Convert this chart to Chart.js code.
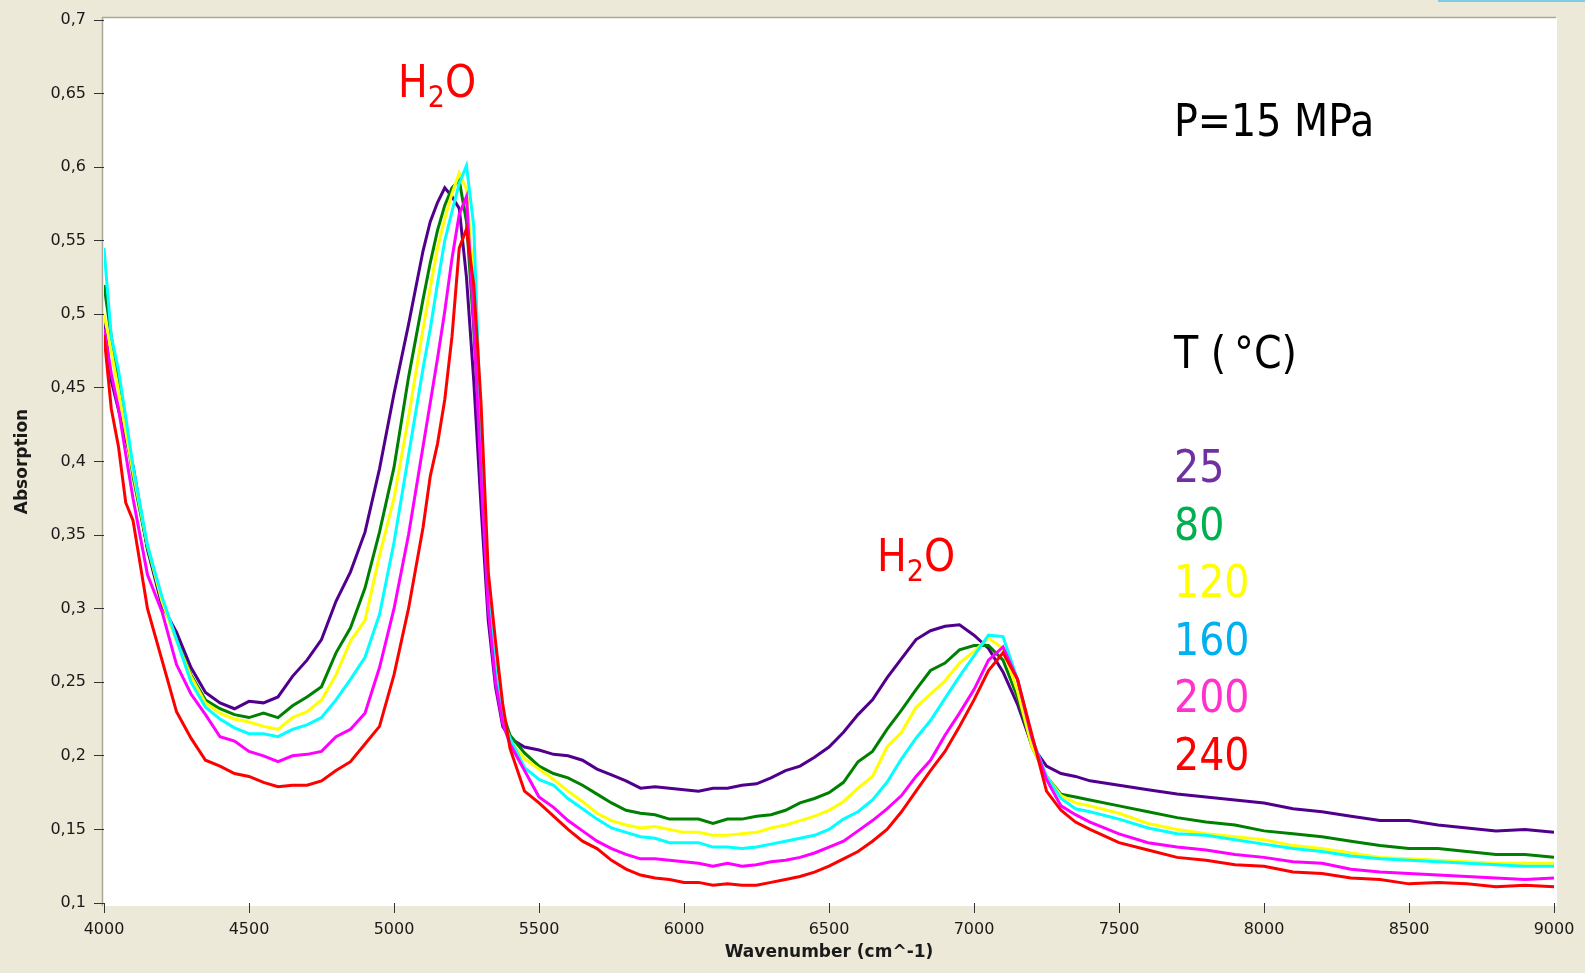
<!DOCTYPE html>
<html>
<head>
<meta charset="utf-8">
<title>Absorption spectra, P=15 MPa</title>
<script src="https://cdn.jsdelivr.net/npm/chart.js@4.4.1/dist/chart.umd.min.js"></script>
<style>
  html, body { margin: 0; padding: 0; background: #ECE9D8; }
  #wrap { width: 1585px; height: 973px; position: relative; }
</style>
</head>
<body>
<div id="wrap"><canvas id="spectra" width="1585" height="973"></canvas></div>
<script>
// wavenumber grid (cm^-1) shared by all series
const wavenumbers = [
  4000, 4025, 4050, 4075,
  4100, 4150, 4200, 4250, 4300, 4350, 4400, 4450, 4500, 4550, 4600, 4650, 4700, 4750, 4800, 4850, 4900, 4950, 5000, 5050, 5100,
  5125, 5150, 5175, 5200, 5225, 5250, 5275, 5300, 5325, 5350, 5375, 5400,
  5450, 5500, 5550, 5600, 5650, 5700, 5750, 5800, 5850, 5900, 5950, 6000, 6050, 6100, 6150, 6200, 6250, 6300, 6350, 6400,
  6450, 6500, 6550, 6600, 6650, 6700, 6750, 6800, 6850, 6900, 6950, 7000, 7050, 7100, 7150, 7200, 7250, 7300, 7350, 7400,
  7500, 7600, 7700, 7800, 7900, 8000, 8100, 8200, 8300, 8400, 8500, 8600, 8700, 8800, 8900, 9000
];

const abs25 = [
  0.495, 0.455, 0.435, 0.415,
  0.397, 0.340, 0.302, 0.284, 0.260, 0.243, 0.236, 0.232, 0.237, 0.236, 0.240, 0.254, 0.265, 0.279, 0.305, 0.325, 0.352, 0.395, 0.446, 0.493, 0.543,
  0.563, 0.576, 0.586, 0.580, 0.572, 0.525, 0.455, 0.370, 0.292, 0.247, 0.220, 0.212,
  0.206, 0.204, 0.201, 0.200, 0.197, 0.191, 0.187, 0.183, 0.178, 0.179, 0.178, 0.177, 0.176, 0.178, 0.178, 0.180, 0.181, 0.185, 0.190, 0.193,
  0.199, 0.206, 0.216, 0.228, 0.238, 0.253, 0.266, 0.279, 0.285, 0.288, 0.289, 0.282, 0.273, 0.257, 0.235, 0.207, 0.193, 0.188, 0.186, 0.183,
  0.180, 0.177, 0.174, 0.172, 0.170, 0.168, 0.164, 0.162, 0.159, 0.156, 0.156, 0.153, 0.151, 0.149, 0.150, 0.148
];

const abs80 = [
  0.520, 0.485, 0.452, 0.421,
  0.390, 0.341, 0.306, 0.279, 0.255, 0.238, 0.232, 0.228, 0.226, 0.229, 0.226, 0.234, 0.240, 0.247, 0.270, 0.287, 0.314, 0.352, 0.396, 0.457, 0.510,
  0.535, 0.557, 0.574, 0.586, 0.591, 0.563, 0.490, 0.403, 0.321, 0.262, 0.229, 0.214,
  0.202, 0.193, 0.188, 0.185, 0.180, 0.174, 0.168, 0.163, 0.161, 0.160, 0.157, 0.157, 0.157, 0.154, 0.157, 0.157, 0.159, 0.160, 0.163, 0.168,
  0.171, 0.175, 0.182, 0.196, 0.203, 0.218, 0.231, 0.245, 0.258, 0.263, 0.272, 0.275, 0.275, 0.265, 0.240, 0.206, 0.186, 0.174, 0.172, 0.170,
  0.166, 0.162, 0.158, 0.155, 0.153, 0.149, 0.147, 0.145, 0.142, 0.139, 0.137, 0.137, 0.135, 0.133, 0.133, 0.131
];

const abs120 = [
  0.500, 0.475, 0.448, 0.420,
  0.393, 0.343, 0.305, 0.278, 0.254, 0.236, 0.229, 0.225, 0.223, 0.220, 0.218, 0.226, 0.230, 0.238, 0.255, 0.278, 0.292, 0.336, 0.375, 0.430, 0.490,
  0.518, 0.545, 0.565, 0.582, 0.596, 0.585, 0.520, 0.405, 0.316, 0.258, 0.225, 0.210,
  0.198, 0.191, 0.184, 0.176, 0.169, 0.161, 0.156, 0.153, 0.151, 0.152, 0.150, 0.148, 0.148, 0.146, 0.146, 0.147, 0.148, 0.151, 0.153, 0.156,
  0.159, 0.163, 0.169, 0.178, 0.186, 0.206, 0.216, 0.233, 0.242, 0.251, 0.263, 0.271, 0.280, 0.273, 0.244, 0.206, 0.186, 0.173, 0.168, 0.166,
  0.161, 0.154, 0.150, 0.147, 0.145, 0.143, 0.139, 0.137, 0.134, 0.131, 0.130, 0.129, 0.128, 0.127, 0.127, 0.127
];

const abs160 = [
  0.545, 0.485, 0.462, 0.430,
  0.397, 0.343, 0.308, 0.279, 0.250, 0.233, 0.225, 0.219, 0.215, 0.215, 0.213, 0.218, 0.221, 0.226, 0.238, 0.252, 0.267, 0.296, 0.345, 0.404, 0.463,
  0.490, 0.521, 0.550, 0.570, 0.589, 0.601, 0.560, 0.420, 0.310, 0.258, 0.224, 0.212,
  0.192, 0.184, 0.180, 0.171, 0.164, 0.157, 0.151, 0.148, 0.145, 0.144, 0.141, 0.141, 0.141, 0.138, 0.138, 0.137, 0.138, 0.140, 0.142, 0.144,
  0.146, 0.150, 0.157, 0.162, 0.170, 0.182, 0.198, 0.212, 0.224, 0.239, 0.254, 0.268, 0.282, 0.281, 0.252, 0.212, 0.186, 0.171, 0.164, 0.162,
  0.157, 0.151, 0.147, 0.146, 0.143, 0.140, 0.137, 0.135, 0.132, 0.130, 0.129, 0.128, 0.127, 0.126, 0.125, 0.125
];

const abs200 = [
  0.490, 0.460, 0.436, 0.405,
  0.375, 0.323, 0.298, 0.262, 0.242, 0.228, 0.213, 0.210, 0.203, 0.200, 0.196, 0.200, 0.201, 0.203, 0.213, 0.218, 0.229, 0.260, 0.300, 0.350, 0.410,
  0.440, 0.470, 0.502, 0.538, 0.568, 0.580, 0.495, 0.390, 0.300, 0.250, 0.222, 0.208,
  0.190, 0.172, 0.165, 0.156, 0.149, 0.142, 0.137, 0.133, 0.130, 0.130, 0.129, 0.128, 0.127, 0.125, 0.127, 0.125, 0.126, 0.128, 0.129, 0.131,
  0.134, 0.138, 0.142, 0.149, 0.156, 0.164, 0.173, 0.186, 0.197, 0.214, 0.229, 0.245, 0.265, 0.274, 0.252, 0.212, 0.184, 0.166, 0.160, 0.155,
  0.147, 0.141, 0.138, 0.136, 0.133, 0.131, 0.128, 0.127, 0.123, 0.121, 0.120, 0.119, 0.118, 0.117, 0.116, 0.117
];

const abs240 = [
  0.486, 0.436, 0.410, 0.372,
  0.360, 0.300, 0.265, 0.230, 0.212, 0.197, 0.193, 0.188, 0.186, 0.182, 0.179, 0.180, 0.180, 0.183, 0.190, 0.196, 0.208, 0.220, 0.255, 0.300, 0.355,
  0.390, 0.412, 0.442, 0.485, 0.545, 0.558, 0.520, 0.440, 0.325, 0.278, 0.235, 0.205,
  0.176, 0.168, 0.159, 0.150, 0.142, 0.137, 0.129, 0.123, 0.119, 0.117, 0.116, 0.114, 0.114, 0.112, 0.113, 0.112, 0.112, 0.114, 0.116, 0.118,
  0.121, 0.125, 0.130, 0.135, 0.142, 0.150, 0.162, 0.176, 0.190, 0.203, 0.220, 0.238, 0.258, 0.270, 0.252, 0.214, 0.176, 0.163, 0.155, 0.150,
  0.141, 0.136, 0.131, 0.129, 0.126, 0.125, 0.121, 0.120, 0.117, 0.116, 0.113, 0.114, 0.113, 0.111, 0.112, 0.111
];

const temperatures = ['25', '80', '120', '160', '200', '240'];
const seriesValues = [abs25, abs80, abs120, abs160, abs200, abs240];
const lineColors = ['#50008C', '#008000', '#FFFF00', '#00FFFF', '#FF00FF', '#FF0000'];
const labelColors = ['#7030A0', '#00B050', '#FFFF00', '#00B0F0', '#FF33CC', '#FF0000'];

const absorptionTicks = [0.1, 0.15, 0.2, 0.25, 0.3, 0.35, 0.4, 0.45, 0.5, 0.55, 0.6, 0.65, 0.7];
const wavenumberTicks = [4000, 4500, 5000, 5500, 6000, 6500, 7000, 7500, 8000, 8500, 9000];

const datasets = seriesValues.map((vals, i) => ({
  label: temperatures[i],
  data: wavenumbers.map((w, j) => ({ x: w, y: vals[j] })),
  borderColor: lineColors[i],
  borderWidth: 3,
  pointRadius: 0,
  tension: 0,
  fill: false,
  order: seriesValues.length - i
}));

// window frame: white plot panel and grey border lines
const panelPlugin = {
  id: 'panel',
  beforeDraw(chart) {
    const c = chart.ctx;
    c.save();
    c.fillStyle = '#ECE9D8';
    c.fillRect(0, 0, chart.width, chart.height);
    c.fillStyle = '#7FCBEA';
    c.fillRect(1438, 0, 147, 2);
    c.fillStyle = '#FFFFFF';
    c.fillRect(103, 18, 1454, 888);
    c.strokeStyle = '#ACA899';
    c.lineWidth = 1.5;
    c.beginPath();
    c.moveTo(102, 17.5); c.lineTo(1556, 17.5);
    c.moveTo(102.5, 17); c.lineTo(102.5, 906);
    c.stroke();
    c.restore();
  }
};

// text written on the plot
const notesPlugin = {
  id: 'notes',
  afterDatasetsDraw(chart) {
    const c = chart.ctx;
    const face = '"DejaVu Sans Condensed", "DejaVu Sans", sans-serif';
    c.save();
    c.textBaseline = 'alphabetic';
    c.textAlign = 'left';

    function water(x, y) {
      c.fillStyle = '#FF0000';
      c.font = '44px ' + face;
      c.fillText('H', x, y);
      let w = c.measureText('H').width;
      c.font = '30px ' + face;
      c.fillText('2', x + w, y + 10);
      w += c.measureText('2').width;
      c.font = '44px ' + face;
      c.fillText('O', x + w, y);
    }
    water(398, 97);
    water(877, 571);

    c.font = '44px ' + face;
    c.fillStyle = '#000000';
    c.fillText('P=15 MPa', 1174, 136);
    c.fillText('T (\u2009\u00B0C)', 1174, 368);

    temperatures.forEach((t, i) => {
      c.fillStyle = labelColors[i];
      c.fillText(t, 1174, 482 + i * 57.6);
    });
    c.restore();
  }
};

new Chart(document.getElementById('spectra'), {
  type: 'line',
  data: { datasets },
  options: {
    responsive: false,
    animation: false,
    devicePixelRatio: 1,
    layout: { padding: { left: 0, right: 31, top: 20, bottom: 0 } },
    plugins: { legend: { display: false }, tooltip: { enabled: false } },
    scales: {
      x: {
        type: 'linear',
        min: 4000,
        max: 9000,
        afterBuildTicks: s => { s.ticks = wavenumberTicks.map(v => ({ value: v })); },
        afterFit: s => { s.height = 70; },
        grid: { drawOnChartArea: false, drawTicks: true, tickLength: 10, tickColor: '#333333', tickWidth: 1 },
        border: { display: false },
        ticks: {
          color: '#1A1A1A',
          font: { family: 'DejaVu Sans', size: 16 },
          padding: 7,
          maxRotation: 0,
          autoSkip: false,
          callback: v => String(v)
        },
        title: { display: true, text: 'Wavenumber (cm^-1)', color: '#1A1A1A', font: { family: 'DejaVu Sans', size: 17, weight: 'bold' }, padding: { top: 0, bottom: 10 } }
      },
      y: {
        min: 0.1,
        max: 0.7,
        afterBuildTicks: s => { s.ticks = absorptionTicks.map(v => ({ value: v })); },
        afterFit: s => { s.width = 104; },
        grid: { drawOnChartArea: false, drawTicks: true, tickLength: 10, tickColor: '#333333', tickWidth: 1 },
        border: { display: false },
        ticks: {
          color: '#1A1A1A',
          font: { family: 'DejaVu Sans', size: 16 },
          padding: 8,
          autoSkip: false,
          callback: v => String(+v.toFixed(2)).replace('.', ',')
        },
        title: { display: true, text: 'Absorption', color: '#1A1A1A', font: { family: 'DejaVu Sans', size: 17, weight: 'bold' }, padding: { top: 12, bottom: 0 } }
      }
    }
  },
  plugins: [panelPlugin, notesPlugin]
});
</script>
</body>
</html>
